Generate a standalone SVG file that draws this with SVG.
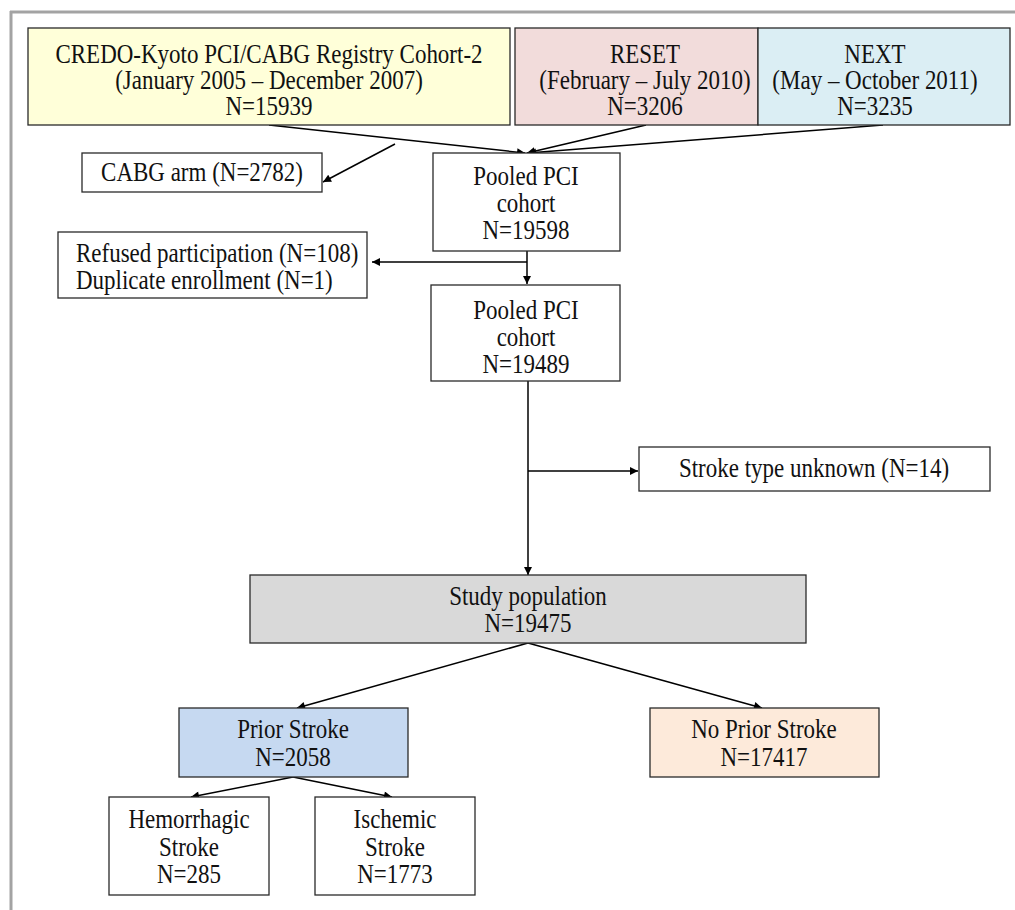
<svg xmlns="http://www.w3.org/2000/svg" width="1015" height="910" viewBox="0 0 1015 910">
<style>
.box{stroke:#2a2a2a;stroke-width:1.3}
.t{font-family:"Liberation Serif","Times New Roman",serif;font-size:23px;fill:#111;text-anchor:middle}
.l{text-anchor:start}
.c{stroke:#000;stroke-width:1.5;fill:none;marker-end:url(#ah)}
</style>
<defs>
<marker id="ah" viewBox="0 0 10 10" refX="10" refY="5" markerWidth="9" markerHeight="8" markerUnits="userSpaceOnUse" orient="auto">
<path d="M0,0 L10,5 L0,10 Z" fill="#000"/>
</marker>
</defs>
<rect width="1015" height="910" fill="#fff"/>
<g id="frame">
<line x1="10" y1="12" x2="1015" y2="12" stroke="#a3a3a3" stroke-width="3"/>
<line x1="11" y1="11" x2="11" y2="910" stroke="#a3a3a3" stroke-width="3"/>
</g>
<g id="connectors">
<line class="c" x1="269" y1="125" x2="525" y2="153"/>
<line class="c" x1="646" y1="125" x2="527" y2="153"/>
<line class="c" x1="883" y1="125" x2="528" y2="153"/>
<line class="c" x1="395" y1="144" x2="323" y2="182"/>
<line class="c" x1="527" y1="251" x2="527" y2="284"/>
<line class="c" x1="527" y1="262" x2="372" y2="262"/>
<line class="c" x1="528" y1="381" x2="528" y2="575"/>
<line class="c" x1="528" y1="471" x2="638" y2="471"/>
<line class="c" x1="528" y1="643" x2="297" y2="708"/>
<line class="c" x1="528" y1="643" x2="762" y2="708"/>
<line class="c" x1="293" y1="777" x2="191" y2="797"/>
<line class="c" x1="293" y1="777" x2="392" y2="797"/>
</g>
<g id="credo">
<rect class="box" x="28" y="28" width="482" height="97" fill="#ffffd9"/>
<text class="t" transform="translate(269 63) scale(1 1.15)">CREDO-Kyoto PCI/CABG Registry Cohort-2</text>
<text class="t" transform="translate(269 89) scale(1 1.15)">(January 2005 – December 2007)</text>
<text class="t" transform="translate(269 115) scale(1 1.15)">N=15939</text>
</g>
<g id="reset">
<rect class="box" x="515" y="28" width="243" height="97" fill="#f2dcdb"/>
<text class="t" transform="translate(645 63) scale(1 1.15)">RESET</text>
<text class="t" transform="translate(645 89) scale(1 1.15)">(February – July 2010)</text>
<text class="t" transform="translate(645 115) scale(1 1.15)">N=3206</text>
</g>
<g id="next">
<rect class="box" x="758" y="28" width="252" height="97" fill="#dbeef4"/>
<text class="t" transform="translate(875 63) scale(1 1.15)">NEXT</text>
<text class="t" transform="translate(875 89) scale(1 1.15)">(May – October 2011)</text>
<text class="t" transform="translate(875 115) scale(1 1.15)">N=3235</text>
</g>
<g id="cabg">
<rect class="box" x="82" y="153" width="240" height="39" fill="#fff"/>
<text class="t" transform="translate(202 181) scale(1 1.15)">CABG arm (N=2782)</text>
</g>
<g id="pooled1">
<rect class="box" x="433" y="153" width="187" height="98" fill="#fff"/>
<text class="t" transform="translate(526 185) scale(1 1.15)">Pooled PCI</text>
<text class="t" transform="translate(526 212) scale(1 1.15)">cohort</text>
<text class="t" transform="translate(526 239) scale(1 1.15)">N=19598</text>
</g>
<g id="refused">
<rect class="box" x="58" y="232" width="309" height="66" fill="#fff"/>
<text class="t l" transform="translate(76 262) scale(1 1.15)">Refused participation (N=108)</text>
<text class="t l" transform="translate(76 289) scale(1 1.15)">Duplicate enrollment (N=1)</text>
</g>
<g id="pooled2">
<rect class="box" x="431" y="285" width="189" height="96" fill="#fff"/>
<text class="t" transform="translate(526 319) scale(1 1.15)">Pooled PCI</text>
<text class="t" transform="translate(526 346) scale(1 1.15)">cohort</text>
<text class="t" transform="translate(526 373) scale(1 1.15)">N=19489</text>
</g>
<g id="unknown">
<rect class="box" x="639" y="447" width="351" height="44" fill="#fff"/>
<text class="t" transform="translate(814 477) scale(1 1.15)">Stroke type unknown (N=14)</text>
</g>
<g id="study">
<rect class="box" x="250" y="575" width="556" height="68" fill="#d9d9d9"/>
<text class="t" transform="translate(528 605) scale(1 1.15)">Study population</text>
<text class="t" transform="translate(528 632) scale(1 1.15)">N=19475</text>
</g>
<g id="prior">
<rect class="box" x="179" y="708" width="229" height="69" fill="#c6d9f1"/>
<text class="t" transform="translate(293 738) scale(1 1.15)">Prior Stroke</text>
<text class="t" transform="translate(293 766) scale(1 1.15)">N=2058</text>
</g>
<g id="noprior">
<rect class="box" x="650" y="708" width="229" height="69" fill="#fdeada"/>
<text class="t" transform="translate(764 738) scale(1 1.15)">No Prior Stroke</text>
<text class="t" transform="translate(764 766) scale(1 1.15)">N=17417</text>
</g>
<g id="hemorrhagic">
<rect class="box" x="109" y="797" width="160" height="98" fill="#fff"/>
<text class="t" transform="translate(189 828) scale(1 1.15)">Hemorrhagic</text>
<text class="t" transform="translate(189 856) scale(1 1.15)">Stroke</text>
<text class="t" transform="translate(189 883) scale(1 1.15)">N=285</text>
</g>
<g id="ischemic">
<rect class="box" x="315" y="797" width="160" height="98" fill="#fff"/>
<text class="t" transform="translate(395 828) scale(1 1.15)">Ischemic</text>
<text class="t" transform="translate(395 856) scale(1 1.15)">Stroke</text>
<text class="t" transform="translate(395 883) scale(1 1.15)">N=1773</text>
</g>
</svg>
